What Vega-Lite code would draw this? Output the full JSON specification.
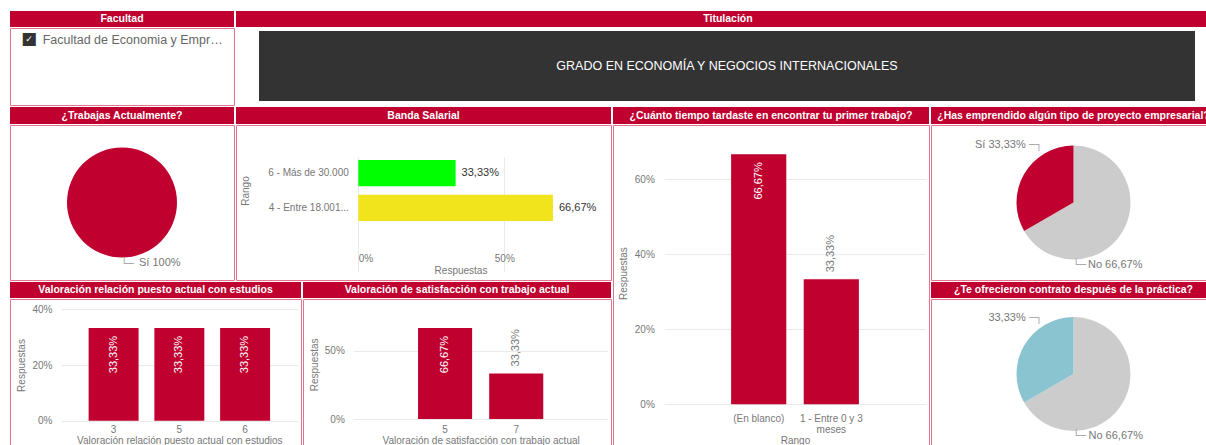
{
  "$schema": "https://vega.github.io/schema/vega-lite/v6.json",
  "background": "white",
  "padding": {"left": 9, "top": 11, "right": 0, "bottom": 0},
  "config": {
    "font": "Liberation Sans",
    "view": {"stroke": "#e3748e", "strokeWidth": 1},
    "axis": {"labelColor": "#777777", "titleColor": "#777777", "labelFontSize": 10, "titleFontSize": 10, "titleFontWeight": "normal", "domain": false, "ticks": false, "gridColor": "#eaeaea", "labelFont": "Liberation Sans", "titleFont": "Liberation Sans"},
    "text": {"font": "Liberation Sans"}
  },
  "spacing": 1,
  "vconcat": [
    {
      "spacing": 1,
      "hconcat": [
        {
          "spacing": 0,
          "vconcat": [
            {"width": 224, "height": 16, "view": {"fill": "#c0002f", "stroke": null}, "data": {"values": [{"t": "Facultad"}]}, "mark": {"type": "text", "color": "white", "fontWeight": "bold", "fontSize": 10.5}, "encoding": {"text": {"field": "t"}}},
            {
              "width": 224, "height": 77,
              "view": {"stroke": "#e3748e", "fill": "white"},
              "data": {"values": [{"f": "Facultad de Economia y Empr…"}]},
              "layer": [
                {"mark": {"type": "text", "color": "#333333", "fontSize": 17, "font": "DejaVu Sans", "dx": -93, "dy": -27.8}, "encoding": {"text": {"value": "■"}}},
                {"mark": {"type": "text", "color": "white", "fontSize": 9, "font": "DejaVu Sans", "dx": -93, "dy": -27.8}, "encoding": {"text": {"value": "✓"}}},
                {"mark": {"type": "text", "color": "#666666", "fontSize": 12.5, "align": "left", "dx": -79.3, "dy": -26.5}, "encoding": {"text": {"field": "f"}}}
              ]
            }
          ]
        },
        {
          "spacing": 4,
          "vconcat": [
            {"width": 984, "height": 16, "view": {"fill": "#c0002f", "stroke": null}, "data": {"values": [{"t": "Titulación"}]}, "mark": {"type": "text", "color": "white", "fontWeight": "bold", "fontSize": 10.5}, "encoding": {"text": {"field": "t"}}},
            {
              "spacing": 2,
              "hconcat": [
                {"width": 21, "height": 70, "view": {"stroke": null}, "data": {"values": [{"t": ""}]}, "mark": {"type": "text"}, "encoding": {"text": {"field": "t"}}},
                {"width": 936, "height": 70, "view": {"fill": "#333333", "stroke": null}, "data": {"values": [{"t": "GRADO EN ECONOMÍA Y NEGOCIOS INTERNACIONALES"}]}, "mark": {"type": "text", "color": "white", "fontSize": 12.5}, "encoding": {"text": {"field": "t"}}}
              ]
            }
          ]
        }
      ]
    },
    {
      "spacing": 0,
      "hconcat": [
        {
          "spacing": 1,
          "vconcat": [
            {
              "spacing": 0,
              "hconcat": [
                {
                  "spacing": 0,
                  "vconcat": [
                    {"width": 224, "height": 17, "view": {"fill": "#c0002f", "stroke": null}, "data": {"values": [{"t": "¿Trabajas Actualmente?"}]}, "mark": {"type": "text", "color": "white", "fontWeight": "bold", "fontSize": 10.5}, "encoding": {"text": {"field": "t"}}},
                    {
                      "width": 224, "height": 155,
                      "view": {"stroke": "#e3748e", "fill": "white"},
                      "data": {"values": [{"r": "Sí", "v": 1, "lab": "Sí 100%"}]},
                      "layer": [
                        {"mark": {"type": "arc", "outerRadius": 55, "color": "#c0002f"}, "encoding": {"theta": {"field": "v", "type": "quantitative", "stack": true}}},
                        {"mark": {"type": "text", "align": "left", "dx": -1.3, "dy": 61.5, "color": "#aaaaaa", "fontSize": 11, "font": "DejaVu Sans"}, "encoding": {"text": {"value": "└─"}}},
                        {"mark": {"type": "text", "align": "left", "dx": 17, "dy": 60, "color": "#777777", "fontSize": 11}, "encoding": {"text": {"field": "lab"}}}
                      ]
                    }
                  ]
                },
                {
                  "spacing": 0,
                  "vconcat": [
                    {"width": 375, "height": 17, "view": {"fill": "#c0002f", "stroke": null}, "data": {"values": [{"t": "Banda Salarial"}]}, "mark": {"type": "text", "color": "white", "fontWeight": "bold", "fontSize": 10.5}, "encoding": {"text": {"field": "t"}}},
                    {
                      "name": "ba",
                      "width": 375, "height": 155,
                      "data": {"values": [
                        {"rango": "6 - Más de 30.000", "v": 0.3333, "lab": "33,33%"},
                        {"rango": "4 - Entre 18.001...", "v": 0.6667, "lab": "66,67%"}
                      ]},
                      "encoding": {
                        "y": {"field": "rango", "type": "nominal", "sort": null, "scale": {"range": [8, 123], "paddingInner": 0.25, "paddingOuter": 0.77}, "axis": {"title": "Rango", "offset": -122.3, "labelPadding": 10, "titlePadding": 17, "grid": false}},
                        "x": {"field": "v", "type": "quantitative", "scale": {"domain": [0, 0.7], "range": [122.3, 326.7], "nice": false}, "axis": {"title": "Respuestas", "values": [0, 0.5], "format": ".0%", "offset": -33, "labelPadding": 6, "titlePadding": 2, "gridScale": "ba_y"}}
                      },
                      "layer": [
                        {"transform": [{"filter": "datum.v < 0.5"}], "mark": {"type": "bar", "color": "#00ff00"}},
                        {"transform": [{"filter": "datum.v >= 0.5"}], "mark": {"type": "bar", "color": "#f2e41c"}},
                        {"mark": {"type": "text", "align": "left", "dx": 6, "color": "#333333", "fontSize": 11}, "encoding": {"text": {"field": "lab"}}}
                      ]
                    }
                  ]
                }
              ]
            },
            {
              "spacing": 0,
              "hconcat": [
                {
                  "spacing": 0,
                  "vconcat": [
                    {"width": 291, "height": 16, "view": {"fill": "#c0002f", "stroke": null}, "data": {"values": [{"t": "Valoración relación puesto actual con estudios"}]}, "mark": {"type": "text", "color": "white", "fontWeight": "bold", "fontSize": 10.5}, "encoding": {"text": {"field": "t"}}},
                    {
                      "name": "vr",
                      "width": 291, "height": 150,
                      "data": {"values": [
                        {"val": "3", "v": 0.3333, "lab": "33,33%"},
                        {"val": "5", "v": 0.3333, "lab": "33,33%"},
                        {"val": "6", "v": 0.3333, "lab": "33,33%"}
                      ]},
                      "encoding": {
                        "x": {"field": "val", "type": "nominal", "sort": null, "scale": {"range": [51, 287.7], "paddingInner": 0.24, "paddingOuter": 0.42}, "axis": {"title": "Valoración relación puesto actual con estudios", "offset": -28.3, "labelAngle": 0, "labelPadding": 4, "titlePadding": 1, "grid": false}},
                        "y": {"field": "v", "type": "quantitative", "scale": {"domain": [0, 0.4], "range": [121.7, 10.3], "nice": false}, "axis": {"title": "Respuestas", "values": [0, 0.2, 0.4], "format": ".0%", "offset": -51, "labelPadding": 9, "titlePadding": 5, "gridScale": "vr_x"}}
                      },
                      "layer": [
                        {"mark": {"type": "bar", "color": "#c0002f"}},
                        {"mark": {"type": "text", "angle": 270, "align": "right", "baseline": "middle", "dx": -8, "color": "white", "fontSize": 11}, "encoding": {"text": {"field": "lab"}}}
                      ]
                    }
                  ]
                },
                {
                  "spacing": 0,
                  "vconcat": [
                    {"width": 308, "height": 16, "view": {"fill": "#c0002f", "stroke": null}, "data": {"values": [{"t": "Valoración de satisfacción con trabajo actual"}]}, "mark": {"type": "text", "color": "white", "fontWeight": "bold", "fontSize": 10.5}, "encoding": {"text": {"field": "t"}}},
                    {
                      "name": "vs",
                      "width": 308, "height": 150,
                      "data": {"values": [
                        {"val": "5", "v": 0.6667, "lab": "66,67%"},
                        {"val": "7", "v": 0.3333, "lab": "33,33%"}
                      ]},
                      "encoding": {
                        "x": {"field": "val", "type": "nominal", "sort": null, "scale": {"range": [50.3, 305], "paddingInner": 0.24, "paddingOuter": 0.91}, "axis": {"title": "Valoración de satisfacción con trabajo actual", "offset": -30, "labelAngle": 0, "labelPadding": 5, "titlePadding": 1, "grid": false}},
                        "y": {"field": "v", "type": "quantitative", "scale": {"domain": [0, 0.8], "range": [120, 10.7], "nice": false}, "axis": {"title": "Respuestas", "values": [0, 0.5], "format": ".0%", "offset": -50.3, "labelPadding": 9, "titlePadding": 5, "gridScale": "vs_x"}}
                      },
                      "layer": [
                        {"mark": {"type": "bar", "color": "#c0002f"}},
                        {"transform": [{"filter": "datum.v > 0.5"}], "mark": {"type": "text", "angle": 270, "align": "right", "baseline": "middle", "dx": -8, "color": "white", "fontSize": 11}, "encoding": {"text": {"field": "lab"}}},
                        {"transform": [{"filter": "datum.v <= 0.5"}], "mark": {"type": "text", "angle": 270, "align": "left", "baseline": "middle", "dx": 7, "color": "#777777", "fontSize": 11}, "encoding": {"text": {"field": "lab"}}}
                      ]
                    }
                  ]
                }
              ]
            }
          ]
        },
        {
          "spacing": 0,
          "vconcat": [
            {"width": 316, "height": 17, "view": {"fill": "#c0002f", "stroke": null}, "data": {"values": [{"t": "¿Cuánto tiempo tardaste en encontrar tu primer trabajo?"}]}, "mark": {"type": "text", "color": "white", "fontWeight": "bold", "fontSize": 10.5}, "encoding": {"text": {"field": "t"}}},
            {
              "name": "cu",
              "width": 316, "height": 324,
              "data": {"values": [
                {"rango": "(En blanco)", "v": 0.6667, "lab": "66,67%"},
                {"rango": "1 - Entre 0 y 3 meses", "v": 0.3333, "lab": "33,33%"}
              ]},
              "encoding": {
                "x": {"field": "rango", "type": "nominal", "sort": null, "scale": {"range": [51.3, 312.7], "paddingInner": 0.24, "paddingOuter": 0.92}, "axis": {"title": "Rango", "offset": -44.7, "labelAngle": 0, "labelPadding": 9, "titlePadding": 1, "labelLineHeight": 11, "grid": false, "labelExpr": "datum.label == '1 - Entre 0 y 3 meses' ? ['1 - Entre 0 y 3', 'meses'] : datum.label"}},
                "y": {"field": "v", "type": "quantitative", "scale": {"domain": [0, 0.7], "range": [279.3, 16.8], "nice": false}, "axis": {"title": "Respuestas", "values": [0, 0.2, 0.4, 0.6], "format": ".0%", "offset": -51.3, "labelPadding": 10, "titlePadding": 6, "gridScale": "cu_x"}}
              },
              "layer": [
                {"mark": {"type": "bar", "color": "#c0002f"}},
                {"transform": [{"filter": "datum.v > 0.5"}], "mark": {"type": "text", "angle": 270, "align": "right", "baseline": "middle", "dx": -8, "color": "white", "fontSize": 11}, "encoding": {"text": {"field": "lab"}}},
                {"transform": [{"filter": "datum.v <= 0.5"}], "mark": {"type": "text", "angle": 270, "align": "left", "baseline": "middle", "dx": 7, "color": "#777777", "fontSize": 11}, "encoding": {"text": {"field": "lab"}}}
              ]
            }
          ]
        },
        {
          "spacing": 1,
          "vconcat": [
            {
              "spacing": 0,
              "vconcat": [
                {"width": 285, "height": 17, "view": {"fill": "#c0002f", "stroke": null}, "data": {"values": [{"t": "¿Has emprendido algún tipo de proyecto empresarial?"}]}, "mark": {"type": "text", "color": "white", "fontWeight": "bold", "fontSize": 10.5}, "encoding": {"text": {"field": "t"}}},
                {
                  "width": 285, "height": 155,
                  "view": {"stroke": "#e3748e", "fill": "white"},
                  "data": {"values": [
                    {"r": "No", "v": 0.6667, "lab": "No 66,67%"},
                    {"r": "Sí", "v": 0.3333, "lab": "Sí 33,33%"}
                  ]},
                  "layer": [
                    {"mark": {"type": "arc", "outerRadius": 57}, "encoding": {"theta": {"field": "v", "type": "quantitative", "stack": true}, "order": {"field": "v", "sort": "descending"}, "color": {"condition": {"test": "datum.r == 'Sí'", "value": "#c0002f"}, "value": "#cccccc"}}},
                    {"transform": [{"filter": "datum.r == 'Sí'"}], "mark": {"type": "text", "align": "left", "dx": -44.5, "dy": -57.5, "color": "#aaaaaa", "fontSize": 11, "font": "DejaVu Sans"}, "encoding": {"text": {"value": "─┐"}}},
                    {"transform": [{"filter": "datum.r == 'No'"}], "mark": {"type": "text", "align": "left", "dx": -0.7, "dy": 62.5, "color": "#aaaaaa", "fontSize": 11, "font": "DejaVu Sans"}, "encoding": {"text": {"value": "└─"}}},
                    {"transform": [{"filter": "datum.r == 'Sí'"}], "mark": {"type": "text", "align": "right", "dx": -47.8, "dy": -57.5, "color": "#777777", "fontSize": 11}, "encoding": {"text": {"field": "lab"}}},
                    {"transform": [{"filter": "datum.r == 'No'"}], "mark": {"type": "text", "align": "left", "dx": 14.5, "dy": 62.5, "color": "#777777", "fontSize": 11}, "encoding": {"text": {"field": "lab"}}}
                  ]
                }
              ]
            },
            {
              "spacing": 0,
              "vconcat": [
                {"width": 285, "height": 16, "view": {"fill": "#c0002f", "stroke": null}, "data": {"values": [{"t": "¿Te ofrecieron contrato después de la práctica?"}]}, "mark": {"type": "text", "color": "white", "fontWeight": "bold", "fontSize": 10.5}, "encoding": {"text": {"field": "t"}}},
                {
                  "width": 285, "height": 150,
                  "view": {"stroke": "#e3748e", "fill": "white"},
                  "data": {"values": [
                    {"r": "No", "v": 0.6667, "lab": "No 66,67%"},
                    {"r": "(En blanco)", "v": 0.3333, "lab": "33,33%"}
                  ]},
                  "layer": [
                    {"mark": {"type": "arc", "outerRadius": 57}, "encoding": {"theta": {"field": "v", "type": "quantitative", "stack": true}, "order": {"field": "v", "sort": "descending"}, "color": {"condition": {"test": "datum.r == 'No'", "value": "#cccccc"}, "value": "#8ac4d0"}}},
                    {"transform": [{"filter": "datum.r != 'No'"}], "mark": {"type": "text", "align": "left", "dx": -44.5, "dy": -55.7, "color": "#aaaaaa", "fontSize": 11, "font": "DejaVu Sans"}, "encoding": {"text": {"value": "─┐"}}},
                    {"transform": [{"filter": "datum.r == 'No'"}], "mark": {"type": "text", "align": "left", "dx": -0.7, "dy": 61.7, "color": "#aaaaaa", "fontSize": 11, "font": "DejaVu Sans"}, "encoding": {"text": {"value": "└─"}}},
                    {"transform": [{"filter": "datum.r != 'No'"}], "mark": {"type": "text", "align": "right", "dx": -47.8, "dy": -55.7, "color": "#777777", "fontSize": 11}, "encoding": {"text": {"field": "lab"}}},
                    {"transform": [{"filter": "datum.r == 'No'"}], "mark": {"type": "text", "align": "left", "dx": 15, "dy": 61.7, "color": "#777777", "fontSize": 11}, "encoding": {"text": {"field": "lab"}}}
                  ]
                }
              ]
            }
          ]
        }
      ]
    }
  ]
}
